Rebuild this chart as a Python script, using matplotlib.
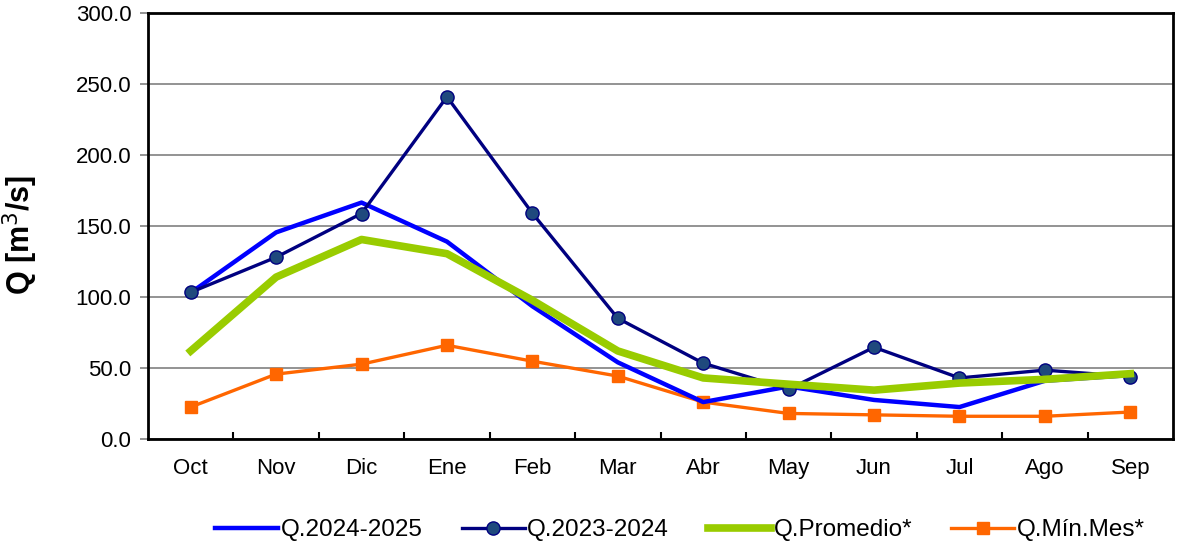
import matplotlib
matplotlib.use("Agg")
import matplotlib.pyplot as plt
import numpy as np

plt.rcParams['font.family'] = ['Liberation Sans', 'DejaVu Sans']

months = ["Oct", "Nov", "Dic", "Ene", "Feb", "Mar", "Abr", "May", "Jun", "Jul", "Ago", "Sep"]
q_2024_2025 = [103.0, 145.5, 166.5, 139.0, 93.5, 54.0, 26.0, 37.0, 27.5, 22.5, 41.0, 45.0]
q_2023_2024 = [103.3, 128.0, 158.8, 241.0, 159.0, 85.0, 53.4, 35.0, 64.6, 43.0, 48.5, 44.0]
q_promedio = [62.0, 114.0, 140.5, 130.5, 97.7, 62.0, 43.0, 38.6, 34.4, 39.4, 42.0, 46.0]
q_min_mes = [22.5, 45.7, 52.7, 66.0, 54.8, 44.3, 26.0, 18.0, 17.0, 16.0, 16.0, 19.0]
yticks = [0, 50, 100, 150, 200, 250, 300]

fig = plt.figure(figsize=(11.83, 5.5), dpi=100)
ax = fig.add_axes([148/1183, (550-439)/550, (1173-148)/1183, (439-13)/550])

x = np.arange(len(months))
ax.plot(x, q_2024_2025, color='#0000FF', lw=3.2, label='Q.2024-2025', zorder=4)
ax.plot(x, q_2023_2024, color='#000080', lw=2.4, marker='o', markersize=9.5,
        markerfacecolor='#1F497D', markeredgecolor='#000080', markeredgewidth=1,
        label='Q.2023-2024', zorder=5)
ax.plot(x, q_promedio, color='#99CC00', lw=5.5, label='Q.Promedio*', zorder=6)
ax.plot(x, q_min_mes, color='#FF6600', lw=2.4, marker='s', markersize=8,
        markerfacecolor='#FF6600', markeredgecolor='#FF6600',
        label='Q.Mín.Mes*', zorder=3)

ax.set_xlim(-0.5, len(months) - 0.5)
ax.set_ylim(0, 300)
ax.set_yticks(yticks)
ax.set_yticklabels([f"{v:.1f}" for v in yticks], fontsize=16)
ax.yaxis.grid(True, color='#808080', lw=1.2)
ax.set_axisbelow(True)

ax.set_xticks(x)
ax.set_xticklabels(months, fontsize=16)
ax.tick_params(axis='x', which='major', length=0, pad=14)
ax.set_xticks(np.arange(0.5, len(months) - 0.5, 1), minor=True)
ax.tick_params(axis='x', which='minor', direction='in', length=5, width=1.5, color='black')
ax.tick_params(axis='y', direction='out', length=6, width=1.2, color='#808080', pad=6)

for s in ax.spines.values():
    s.set_linewidth(2)
    s.set_color('black')

ax.set_ylabel('Q [m$^3$/s]', fontsize=22, fontweight='bold')
ax.yaxis.set_label_coords(-0.105, 0.48)

leg = fig.legend(loc='center', bbox_to_anchor=(680/1183, 1 - 530/550), ncol=4, frameon=False,
                 fontsize=17.5, handlelength=2.6, handletextpad=0.1, columnspacing=1.6)

fig.savefig('out.png', dpi=100)
